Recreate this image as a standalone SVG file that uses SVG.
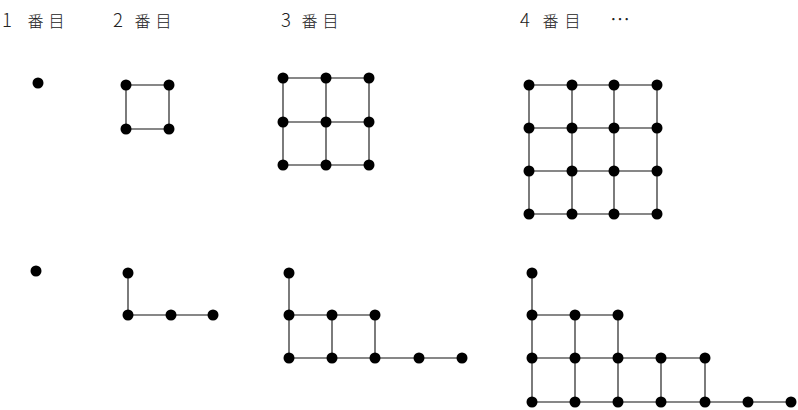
<svg xmlns="http://www.w3.org/2000/svg" width="798" height="410" viewBox="0 0 798 410">
<style>
.t{font-family:"Noto Sans CJK JP","Noto Sans",sans-serif;font-size:16px;font-weight:300;fill:#222}
.n{font-size:18.5px}
.d{fill:#000}
.e{stroke:#111;stroke-width:1.1;fill:none}
</style>
<rect width="798" height="410" fill="#fff"/>
<g id="labels">
<text class="t" y="27"><tspan class="n" x="2">1 </tspan><tspan x="27.5" letter-spacing="5">番目</tspan></text>
<text class="t" y="27"><tspan class="n" x="113">2 </tspan><tspan x="134.5" letter-spacing="5">番目</tspan></text>
<text class="t" y="27"><tspan class="n" x="281">3 </tspan><tspan x="301.5" letter-spacing="5">番目</tspan></text>
<text class="t" y="27"><tspan class="n" x="520">4 </tspan><tspan x="542.5" letter-spacing="6">番目</tspan></text>
<text class="t" x="610" y="27" style="font-size:20px">…</text>
</g>
<g id="connectors" class="e">
<path d="M126 85H169V129H126Z"/>
<path d="M283 78H369M283 122H369M283 165H369M283 78V165M326 78V165M369 78V165"/>
<path d="M529 85H657M529 128H657M529 171H657M529 214H657M529 85V214M572 85V214M614 85V214M657 85V214"/>
<path d="M128 273V315H213"/>
<path d="M289 273V358M332 315V358M375 315V358M289 315H375M289 358H462"/>
<path d="M532 273V402M575 315V402M618 315V402M661 358V402M705 358V402M532 315H618M532 358H705M532 402H791"/>
</g>
<g id="a1"><circle class="d" cx="38" cy="83" r="5.5"/></g>
<g id="a2-1"><circle class="d" cx="126" cy="85" r="5.5"/></g>
<g id="a2-2"><circle class="d" cx="169" cy="85" r="5.5"/></g>
<g id="a2-3"><circle class="d" cx="126" cy="129" r="5.5"/></g>
<g id="a2-4"><circle class="d" cx="169" cy="129" r="5.5"/></g>
<g id="a3-1"><circle class="d" cx="283" cy="78" r="5.5"/></g>
<g id="a3-2"><circle class="d" cx="326" cy="78" r="5.5"/></g>
<g id="a3-3"><circle class="d" cx="369" cy="78" r="5.5"/></g>
<g id="a3-4"><circle class="d" cx="283" cy="122" r="5.5"/></g>
<g id="a3-5"><circle class="d" cx="326" cy="122" r="5.5"/></g>
<g id="a3-6"><circle class="d" cx="369" cy="122" r="5.5"/></g>
<g id="a3-7"><circle class="d" cx="283" cy="165" r="5.5"/></g>
<g id="a3-8"><circle class="d" cx="326" cy="165" r="5.5"/></g>
<g id="a3-9"><circle class="d" cx="369" cy="165" r="5.5"/></g>
<g id="a4-1"><circle class="d" cx="529" cy="85" r="5.5"/></g>
<g id="a4-2"><circle class="d" cx="572" cy="85" r="5.5"/></g>
<g id="a4-3"><circle class="d" cx="614" cy="85" r="5.5"/></g>
<g id="a4-4"><circle class="d" cx="657" cy="85" r="5.5"/></g>
<g id="a4-5"><circle class="d" cx="529" cy="128" r="5.5"/></g>
<g id="a4-6"><circle class="d" cx="572" cy="128" r="5.5"/></g>
<g id="a4-7"><circle class="d" cx="614" cy="128" r="5.5"/></g>
<g id="a4-8"><circle class="d" cx="657" cy="128" r="5.5"/></g>
<g id="a4-9"><circle class="d" cx="529" cy="171" r="5.5"/></g>
<g id="a4-10"><circle class="d" cx="572" cy="171" r="5.5"/></g>
<g id="a4-11"><circle class="d" cx="614" cy="171" r="5.5"/></g>
<g id="a4-12"><circle class="d" cx="657" cy="171" r="5.5"/></g>
<g id="a4-13"><circle class="d" cx="529" cy="214" r="5.5"/></g>
<g id="a4-14"><circle class="d" cx="572" cy="214" r="5.5"/></g>
<g id="a4-15"><circle class="d" cx="614" cy="214" r="5.5"/></g>
<g id="a4-16"><circle class="d" cx="657" cy="214" r="5.5"/></g>
<g id="b1"><circle class="d" cx="36" cy="271" r="5.5"/></g>
<g id="b2-1"><circle class="d" cx="128" cy="273" r="5.5"/></g>
<g id="b2-2"><circle class="d" cx="128" cy="315" r="5.5"/></g>
<g id="b2-3"><circle class="d" cx="171" cy="315" r="5.5"/></g>
<g id="b2-4"><circle class="d" cx="213" cy="315" r="5.5"/></g>
<g id="b3-1"><circle class="d" cx="289" cy="273" r="5.5"/></g>
<g id="b3-2"><circle class="d" cx="289" cy="315" r="5.5"/></g>
<g id="b3-3"><circle class="d" cx="332" cy="315" r="5.5"/></g>
<g id="b3-4"><circle class="d" cx="375" cy="315" r="5.5"/></g>
<g id="b3-5"><circle class="d" cx="289" cy="358" r="5.5"/></g>
<g id="b3-6"><circle class="d" cx="332" cy="358" r="5.5"/></g>
<g id="b3-7"><circle class="d" cx="375" cy="358" r="5.5"/></g>
<g id="b3-8"><circle class="d" cx="419" cy="358" r="5.5"/></g>
<g id="b3-9"><circle class="d" cx="462" cy="358" r="5.5"/></g>
<g id="b4-1"><circle class="d" cx="532" cy="273" r="5.5"/></g>
<g id="b4-2"><circle class="d" cx="532" cy="315" r="5.5"/></g>
<g id="b4-3"><circle class="d" cx="575" cy="315" r="5.5"/></g>
<g id="b4-4"><circle class="d" cx="618" cy="315" r="5.5"/></g>
<g id="b4-5"><circle class="d" cx="532" cy="358" r="5.5"/></g>
<g id="b4-6"><circle class="d" cx="575" cy="358" r="5.5"/></g>
<g id="b4-7"><circle class="d" cx="618" cy="358" r="5.5"/></g>
<g id="b4-8"><circle class="d" cx="661" cy="358" r="5.5"/></g>
<g id="b4-9"><circle class="d" cx="705" cy="358" r="5.5"/></g>
<g id="b4-10"><circle class="d" cx="532" cy="402" r="5.5"/></g>
<g id="b4-11"><circle class="d" cx="575" cy="402" r="5.5"/></g>
<g id="b4-12"><circle class="d" cx="618" cy="402" r="5.5"/></g>
<g id="b4-13"><circle class="d" cx="661" cy="402" r="5.5"/></g>
<g id="b4-14"><circle class="d" cx="705" cy="402" r="5.5"/></g>
<g id="b4-15"><circle class="d" cx="748" cy="402" r="5.5"/></g>
<g id="b4-16"><circle class="d" cx="791" cy="402" r="5.5"/></g>
</svg>
